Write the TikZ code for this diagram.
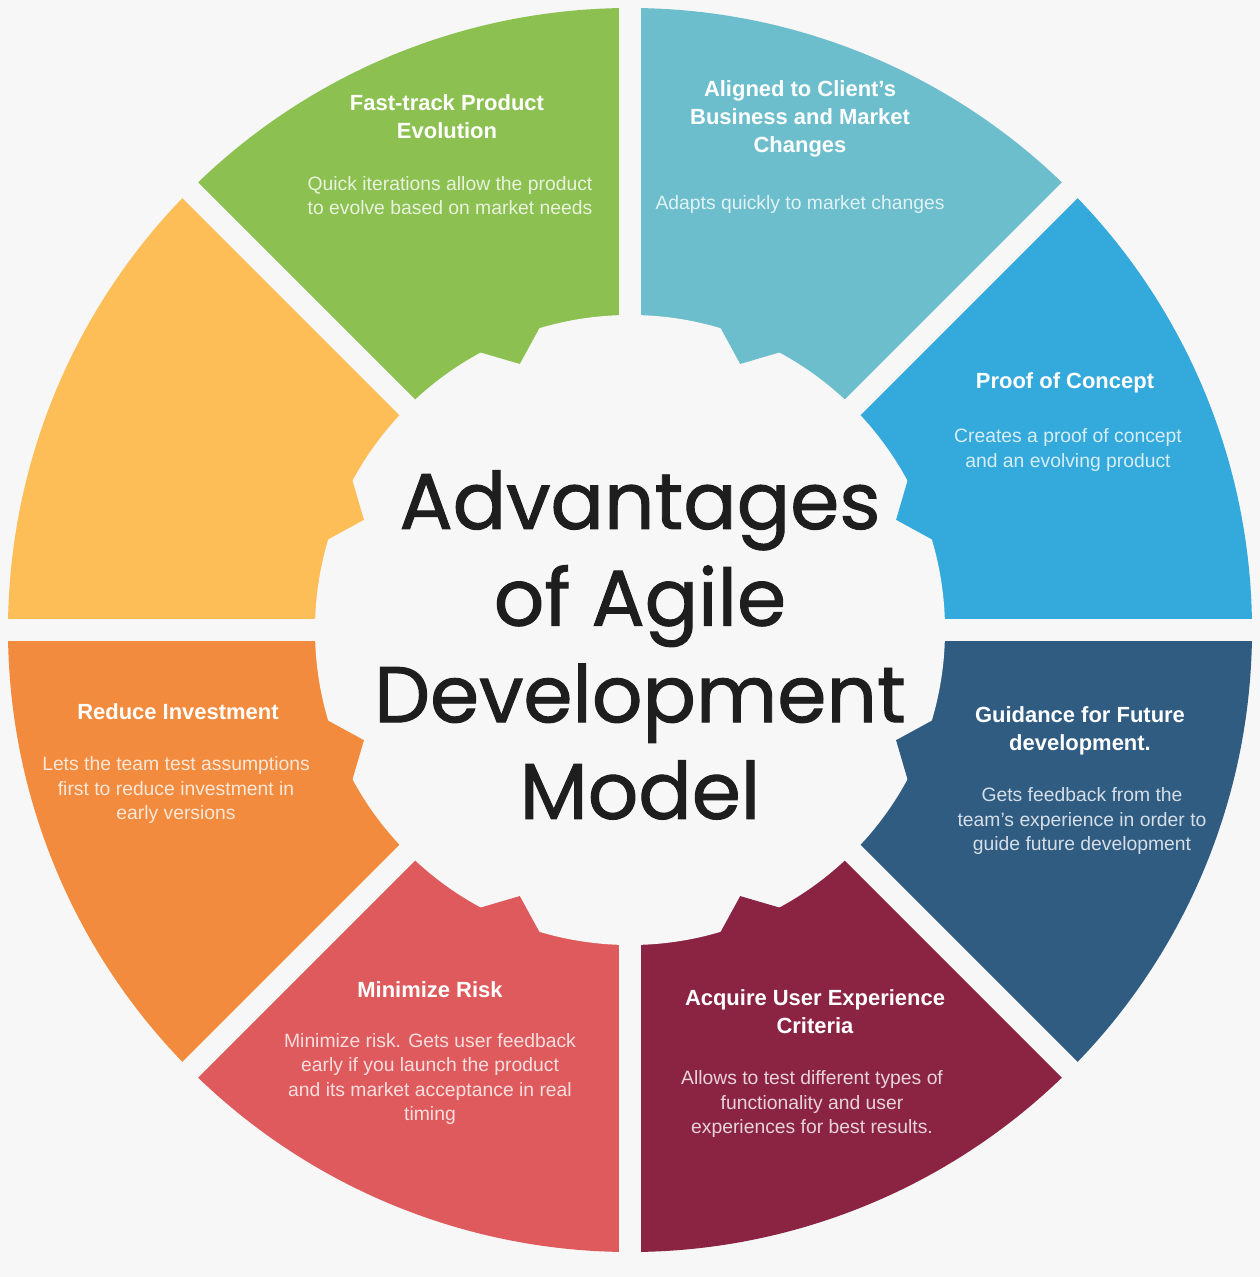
\documentclass[tikz,border=0pt]{standalone}
\usepackage{fontspec}
\setmainfont{Liberation Sans}
\newfontfamily\titlefont{Poppins}[FakeBold=1.2]
\definecolor{bg}{HTML}{F7F7F7}
\definecolor{cgreen}{HTML}{8CC152}
\definecolor{cteal}{HTML}{6CBECC}
\definecolor{cblue}{HTML}{34A9DC}
\definecolor{cdblue}{HTML}{305C82}
\definecolor{cmaroon}{HTML}{8B2442}
\definecolor{cred}{HTML}{DE5A5C}
\definecolor{corange}{HTML}{F28B3E}
\definecolor{cyellow}{HTML}{FDBD57}
\definecolor{titlec}{HTML}{1E1E1E}
\begin{document}
\begin{tikzpicture}[x=0.02cm,y=-0.02cm,
  head/.style={text=white, font=\bfseries\fontsize{12.5}{16}\selectfont, align=center, inner sep=0pt},
  body/.style={text=white, text opacity=0.8, font=\fontsize{11}{13.7}\selectfont, align=center, inner sep=0pt},
  gapline/.style={bg, line width=0.44cm}]
\useasboundingbox (0,0) rectangle (1260,1277);
\fill[bg] (0,0) rectangle (1260,1277);
\begin{scope}[shift={(630,630)}]
  % sectors
  \foreach \a/\c in {-45/cblue,0/cdblue,45/cmaroon,90/cred,135/corange,180/cyellow,225/cgreen,270/cteal}
    \fill[\c] (0,0) -- (\a:622) arc[start angle=\a, delta angle=45, radius=622] -- cycle;
  % white centre
  \fill[bg] (0,0) circle[radius=315];
  % teeth pointing inward
  \foreach \m/\c in {-22.5/cblue,22.5/cdblue,67.5/cmaroon,112.5/cred,157.5/corange,202.5/cyellow,247.5/cgreen,292.5/cteal}
    \fill[\c] ({\m-7}:322) -- (\m:288) -- ({\m+7}:322) -- cycle;
  % gaps between sectors
  \foreach \a in {0,45,90,135}
    \draw[gapline] (\a:640) -- ({\a+180}:640);
\end{scope}

\node[font=\titlefont\fontsize{45}{55}\selectfont, text=titlec, align=center] (title) at (640,645) {Advantages\\of Agile\\Development\\Model};

% green
\node[head] (h1) at (447,117) {Fast-track Product\\Evolution};
\node[body] (b1) at (450,196) {Quick iterations allow the product\\to evolve based on market needs};
% teal
\node[head] (h2) at (800,119) {Aligned to Client's\\Business and Market\\Changes};
\node[body] (b2) at (800,205) {Adapts quickly to market changes};
% blue
\node[head] (h3) at (1065,383) {Proof of Concept};
\node[body] (b3) at (1068,450) {Creates a proof of concept\\and an evolving product};
% dark blue
\node[head] (h4) at (1080,731) {Guidance for Future\\development.};
\node[body] (b4) at (1082,821) {Gets feedback from the\\team's experience in order to\\guide future development};
% maroon
\node[head] (h5) at (815,1012) {Acquire User Experience\\Criteria};
\node[body] (b5) at (812,1104) {Allows to test different types of\\functionality and user\\experiences for best results.};
% red
\node[head] (h6) at (430,990) {Minimize Risk};
\node[body] (b6) at (430,1079) {Minimize risk. Gets user feedback\\early if you launch the product\\and its market acceptance in real\\timing};
% orange
\node[head] (h7) at (178,712) {Reduce Investment};
\node[body] (b7) at (176,790) {Lets the team test assumptions\\first to reduce investment in\\early versions};
\end{tikzpicture}
\end{document}
